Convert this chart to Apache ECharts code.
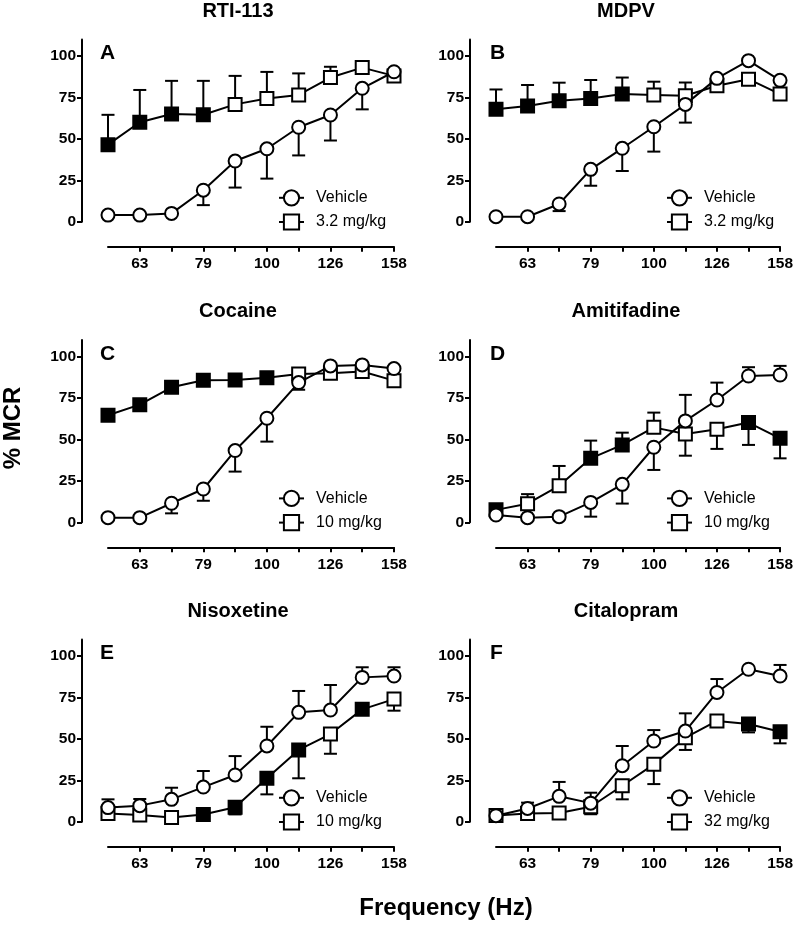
<!DOCTYPE html>
<html><head><meta charset="utf-8">
<script src="https://cdn.jsdelivr.net/npm/echarts@6/dist/echarts.min.js"></script>
<style>html,body{margin:0;padding:0;background:#fff}#c{width:796px;height:927px}</style>
</head><body><div id="c"></div>
<script>
// ---------- data ----------
const frequencies = ['56','63','71','79','89','100','112','126','141','158'];
const labeledFrequencies = ['63','79','100','126','158'];
const yTicks = [0, 25, 50, 75, 100];
const panelLetters = ['A','B','C','D','E','F'];
const drugNames = ['RTI-113','MDPV','Cocaine','Amitifadine','Nisoxetine','Citalopram'];
const doseLabels = ['3.2 mg/kg','3.2 mg/kg','10 mg/kg','10 mg/kg','10 mg/kg','32 mg/kg'];
const vehicleLabel = 'Vehicle';

// signed one-sided SEM: + drawn upward, - drawn downward, null = not visible
const vehicleA = [4, 4, 5, 19, 36.6, 44, 57, 64.4, 80.5, 90.5];
const vehicleErrA = [null, null, null, -9, -16, -18, -17, -15.4, -12.7, null];
const drugA = [46.5, 60, 65, 64.5, 70.8, 74.4, 76.5, 87, 93, 88];
const drugErrA = [18, 19.5, 20, 20.5, 17.2, 16, 13, 6.5, 2, -3];
const drugFilledA = [1, 1, 1, 1, 0, 0, 0, 0, 0, 0];

const vehicleB = [3, 3, 10.7, 31.6, 44.3, 57.3, 70.8, 86.5, 97.2, 85.3];
const vehicleErrB = [null, null, -4.3, -9.9, -13.7, -15, -11, null, null, null];
const drugB = [67.8, 69.8, 73, 74.4, 77, 76.5, 76, 82, 86, 77];
const drugErrB = [12, 12.7, 10.9, 11.1, 10, 8, 8, null, null, null];
const drugFilledB = [1, 1, 1, 1, 1, 0, 0, 0, 0, 0];

const vehicleC = [2.8, 2.8, 11.5, 20.1, 43.3, 62.8, 84.3, 94.4, 95, 92.8];
const vehicleErrC = [null, null, -6.1, -7.1, -12.7, -14.1, -4.3, null, null, null];
const drugC = [64.6, 71, 81.5, 85.7, 85.9, 87.3, 89.5, 90, 91, 85.5];
const drugErrC = [null, null, null, null, null, null, null, null, null, null];
const drugFilledC = [1, 1, 1, 1, 1, 1, 0, 0, 0, 0];

const vehicleD = [4.4, 2.8, 3.4, 12, 22.9, 45.3, 61.2, 73.8, 88.3, 88.9];
const vehicleErrD = [null, null, null, -8.6, -11.6, -13.7, 15.7, 10.5, 5.3, 5.5];
const drugD = [7.5, 11.2, 22, 38.6, 46.7, 57.3, 53.3, 56.1, 60.2, 50.7];
const drugErrD = [null, 5.8, 12, 10.7, 7.4, 8.9, -13.1, -11.8, -13.5, -12.1];
const drugFilledD = [1, 0, 0, 1, 1, 0, 0, 0, 1, 1];

const vehicleE = [8.5, 9.7, 13.5, 20.9, 28.2, 45.7, 66, 67.4, 87.1, 87.9];
const vehicleErrE = [5, 4, 7, 9.7, 11.4, 11.6, 12.9, 15.1, 6.1, 5.3];
const drugE = [5, 4, 2.6, 4.4, 8.7, 26.2, 43.3, 52.9, 67.8, 74];
const drugErrE = [null, null, null, null, -4.3, -9.7, -17.1, -11.9, null, -7];
const drugFilledE = [0, 0, 0, 1, 1, 1, 1, 0, 1, 0];

const vehicleF = [3.6, 8, 15.3, 11.2, 33.8, 48.7, 54.7, 78, 92, 87.9];
const vehicleErrF = [null, 3.5, 8.7, 6.3, 11.9, 6.6, 10.7, 8.1, null, 6.7];
const drugF = [3.8, 5, 5.2, 9, 21.7, 34.6, 50.7, 60.8, 59, 54.3];
const drugErrF = [null, null, null, -4.5, -8.2, -11.9, -7.4, null, -5.1, -7];
const drugFilledF = [0, 0, 0, 0, 0, 0, 0, 0, 1, 1];

const panels = [
  [vehicleA, vehicleErrA, drugA, drugErrA, drugFilledA],
  [vehicleB, vehicleErrB, drugB, drugErrB, drugFilledB],
  [vehicleC, vehicleErrC, drugC, drugErrC, drugFilledC],
  [vehicleD, vehicleErrD, drugD, drugErrD, drugFilledD],
  [vehicleE, vehicleErrE, drugE, drugErrE, drugFilledE],
  [vehicleF, vehicleErrF, drugF, drugErrF, drugFilledF]
];

// ---------- layout ----------
const FONT = '"Liberation Sans", Arial, Helvetica, sans-serif';
const colLeft = [108, 496];
const gridW = 286;
const rowY0 = [221.7, 522.3, 821.7];
const unit = 1.657;
const gridH = 110 * unit;

function errRender(params, api) {
  const x = api.value(0), v = api.value(1), e = api.value(2);
  const p0 = api.coord([x, v]);
  const p1 = api.coord([x, v + e]);
  const half = 6.5;
  return {
    type: 'group',
    children: [
      { type: 'line', shape: { x1: p0[0], y1: p0[1], x2: p1[0], y2: p1[1] }, style: { stroke: '#000', lineWidth: 2 } },
      { type: 'line', shape: { x1: p1[0] - half, y1: p1[1], x2: p1[0] + half, y2: p1[1] }, style: { stroke: '#000', lineWidth: 2 } }
    ]
  };
}

const grids = [], xAxes = [], yAxes = [], series = [], legends = [], graphics = [];

panels.forEach((p, i) => {
  const col = i % 2, row = Math.floor(i / 2);
  const y0 = rowY0[row];
  const left = colLeft[col];
  const [veh, vehErr, drug, drugErr, filled] = p;

  grids.push({ left: left, top: y0 - gridH, width: gridW, height: gridH });
  xAxes.push({
    gridIndex: i, type: 'category', data: frequencies, boundaryGap: false, offset: 25,
    axisLine: { onZero: false, lineStyle: { color: '#000', width: 2 } },
    axisTick: { length: 5, lineStyle: { color: '#000', width: 2 }, interval: (idx) => idx > 0 },
    axisLabel: { interval: (idx, val) => labeledFrequencies.indexOf(val) >= 0, margin: 9,
      color: '#000', fontWeight: 'bold', fontSize: 15.5, fontFamily: FONT },
    splitLine: { show: false }
  });
  yAxes.push({
    gridIndex: i, type: 'value', min: 0, max: 110, offset: 26,
    axisLine: { show: true, onZero: false, lineStyle: { color: '#000', width: 2 } },
    axisTick: { show: true, length: 5, lineStyle: { color: '#000', width: 2 }, customValues: yTicks },
    axisLabel: { customValues: yTicks, margin: 6, color: '#000', fontWeight: 'bold', fontSize: 15.5, fontFamily: FONT },
    splitLine: { show: false }
  });

  const errData = (vals, errs) => vals.map((v, k) => errs[k] == null ? null : [k, v, errs[k]]).filter(d => d);
  series.push({
    type: 'custom', xAxisIndex: i, yAxisIndex: i, renderItem: errRender, silent: true, z: 1,
    encode: { x: 0, y: 1 }, data: errData(drug, drugErr)
  });
  series.push({
    type: 'custom', xAxisIndex: i, yAxisIndex: i, renderItem: errRender, silent: true, z: 1,
    encode: { x: 0, y: 1 }, data: errData(veh, vehErr)
  });
  series.push({
    type: 'line', name: doseLabels[i], xAxisIndex: i, yAxisIndex: i, z: 3, clip: false, silent: true,
    symbol: 'rect', symbolSize: 13,
    itemStyle: { color: '#fff', borderColor: '#000', borderWidth: 2 },
    lineStyle: { color: '#000', width: 2 },
    data: drug.map((v, k) => filled[k] ? { value: v, itemStyle: { color: '#000' } } : v)
  });
  series.push({
    type: 'line', name: vehicleLabel, xAxisIndex: i, yAxisIndex: i, z: 4, clip: false, silent: true,
    symbol: 'circle', symbolSize: 13,
    itemStyle: { color: '#fff', borderColor: '#000', borderWidth: 2 },
    lineStyle: { color: '#000', width: 2 },
    data: veh
  });

  legends.push({
    left: left + 170, top: y0 - 32.5, orient: 'vertical', itemGap: 7, itemWidth: 25, itemHeight: 19,
    padding: 0, selectedMode: false, data: [vehicleLabel, doseLabels[i]],
    textStyle: { fontSize: 16, fontFamily: FONT, color: '#000', padding: [0, 0, 0, 7] }
  });

  graphics.push({
    type: 'text', x: left - 26 + gridW / 2 + 13, y: y0 - 210.5,
    style: { text: drugNames[i], font: 'bold 20px ' + FONT, fill: '#000', textAlign: 'center', textVerticalAlign: 'middle' }
  });
  graphics.push({
    type: 'text', x: left - 8 + col * 2, y: y0 - 100 * unit - 2.5,
    style: { text: panelLetters[i], font: 'bold 21px ' + FONT, fill: '#000', textAlign: 'left', textVerticalAlign: 'middle' }
  });
});

graphics.push({
  type: 'text', x: 13, y: 428, rotation: Math.PI / 2,
  style: { text: '% MCR', font: 'bold 24px ' + FONT, fill: '#000', textAlign: 'center', textVerticalAlign: 'middle' }
});
graphics.push({
  type: 'text', x: 446, y: 908,
  style: { text: 'Frequency (Hz)', font: 'bold 24px ' + FONT, fill: '#000', textAlign: 'center', textVerticalAlign: 'middle' }
});

const chart = echarts.init(document.getElementById('c'), null, { renderer: 'canvas' });
chart.setOption({
  animation: false,
  backgroundColor: '#fff',
  grid: grids, xAxis: xAxes, yAxis: yAxes, series: series, legend: legends,
  graphic: { elements: graphics }
});
</script></body></html>
